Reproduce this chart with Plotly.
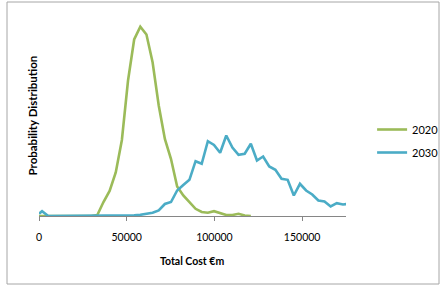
import plotly.graph_objects as go

# x positions (bin centres, €m); first point is the axis origin
cost = [0] + [1750 + 3500 * k for k in range(51)]

# 2020 distribution (relative heights), ends at bin 34
p2020 = [0, 0, 0, 0, 0, 0, 0, 0, 0, 0, 1, 14, 25, 43.5, 76, 135.5, 176.5, 189.3, 181.5,
         153.8, 110.5, 77, 57, 29.5, 20.5, 13.5, 7.2, 4, 3.2, 4.8, 3, 1, 1, 2.2, 0.5, 0]

# 2030 distribution (relative heights)
p2030 = [2.2, 4.8, 0, 0, 0, 0, 0, 0, 0, 0, 0, 0, 0, 0, 0, 0.5, 0.7, 1.2, 2.2, 3.2,
         5.5, 12, 14, 25.5, 31, 36.2, 54.8, 52.2, 74.8, 71, 63.2, 80.5, 68.5, 61.2, 62.2,
         72.2, 55.5, 59.5, 49.5, 46.2, 37.2, 36.2, 20.5, 32.2, 25.5, 21.5, 15.5, 14.5,
         9.5, 12.8, 11.5, 12.2]

x_ticks = [0, 50000, 100000, 150000]

font = "Lato, 'Open Sans', sans-serif"

fig = go.Figure()
fig.add_trace(go.Scatter(x=cost[:len(p2020)], y=p2020, mode="lines", name="2020",
                         legendgroup="a",
                         line=dict(color="#9BBB59", width=2.6)))
fig.add_trace(go.Scatter(x=cost[:len(p2030)], y=p2030, mode="lines", name="2030",
                         legendgroup="b",
                         line=dict(color="#4BACC6", width=2.6)))

fig.update_layout(
    width=441, height=285,
    margin=dict(l=39, r=95, t=16, b=69, autoexpand=False),
    paper_bgcolor="white", plot_bgcolor="white",
    font=dict(family=font, size=11, color="#000000"),
    showlegend=True,
    legend=dict(x=1.085, y=(216 - 141) / 200, xanchor="left", yanchor="middle",
                font=dict(family=font, size=11), bgcolor="rgba(0,0,0,0)",
                traceorder="grouped", tracegroupgap=4, itemwidth=30),
    xaxis=dict(range=[0, 175000], tickvals=x_ticks, ticktext=[str(v) for v in x_ticks],
               showgrid=False, zeroline=False, showline=True, linecolor="#868686",
               linewidth=1, ticks="outside", ticklen=4, tickcolor="#868686",
               ticklabelstandoff=7,
               tickfont=dict(family=font, size=10.5)),
    yaxis=dict(range=[0, 200], showgrid=False, zeroline=False, showline=False,
               showticklabels=False, ticks=""),
    annotations=[
        dict(text="<b>Total Cost €m</b>", xref="paper", yref="paper",
             x=(192 - 39) / 307, y=(216 - 261) / 200, xanchor="center", yanchor="middle",
             showarrow=False, font=dict(family=font, size=10.5)),
        dict(text="<b>Probability Distribution</b>", xref="paper", yref="paper",
             x=(31.5 - 39) / 307, y=(216 - 116) / 200, xanchor="center", yanchor="middle",
             textangle=-90, showarrow=False, font=dict(family=font, size=11.5)),
    ],
    shapes=[
        dict(type="rect", xref="paper", yref="paper",
             x0=(7 - 39) / 307, x1=(439 - 39) / 307,
             y0=(216 - 284) / 200, y1=(216 - 2) / 200,
             line=dict(color="#A6A6A6", width=1), fillcolor="rgba(0,0,0,0)"),
    ],
)

fig.write_html("out.html", config={"displayModeBar": False},
               post_script="document.body.style.margin='0';")
